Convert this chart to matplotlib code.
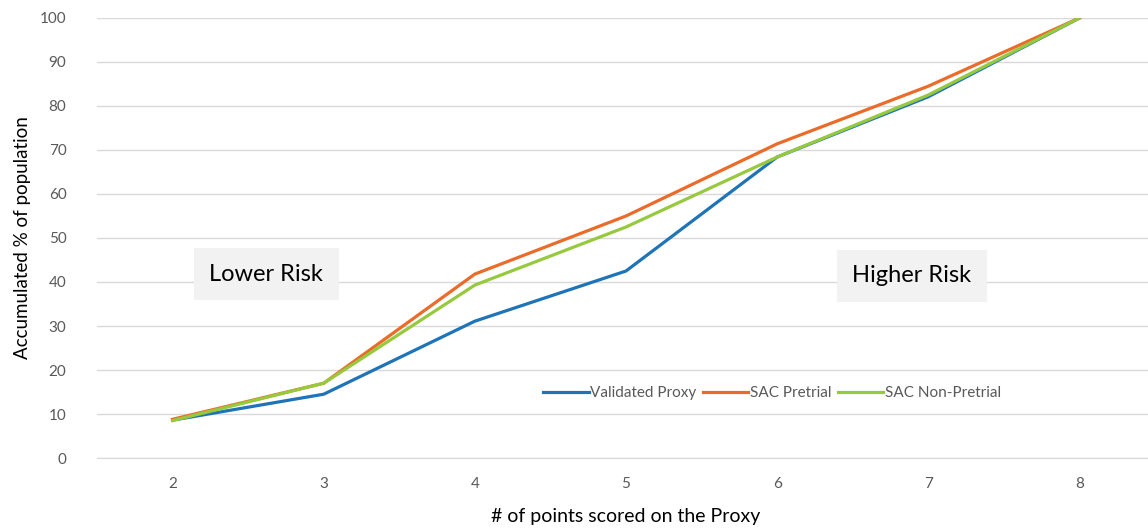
import matplotlib.pyplot as plt

points = [2, 3, 4, 5, 6, 7, 8]
validated_proxy = [8.6, 14.5, 31.1, 42.5, 68.4, 82.1, 100]
sac_pretrial = [8.8, 17.0, 41.8, 55.0, 71.4, 84.5, 100]
sac_non_pretrial = [8.5, 17.0, 39.3, 52.5, 68.4, 82.5, 100]

plt.rcParams['font.family'] = ['Lato', 'DejaVu Sans']

fig = plt.figure(figsize=(11.48, 5.29), dpi=100)
ax = fig.add_axes([0.0845, 0.1342, 0.9216, 0.8318])

ax.plot(points, validated_proxy, color='#1f74b8', lw=2.3, label='Validated Proxy')
ax.plot(points, sac_pretrial, color='#eb6b2a', lw=2.3, label='SAC Pretrial')
ax.plot(points, sac_non_pretrial, color='#96c93d', lw=2.3, label='SAC Non-Pretrial')

ax.set_xlim(1.5, 8.5)
ax.set_ylim(0, 100)
ax.set_yticks(range(0, 101, 10))
ax.set_xticks(points)
ax.grid(axis='y', color='#d9d9d9', lw=1)
ax.set_axisbelow(True)
for s in ['top', 'right', 'left']:
    ax.spines[s].set_visible(False)
ax.spines['bottom'].set_color('#d9d9d9')
ax.tick_params(length=0, colors='#595959', labelsize=11)
ax.tick_params(axis='x', pad=14)
ax.tick_params(axis='y', pad=22)

ax.set_xlabel('# of points scored on the Proxy', fontsize=14, color='#000000', labelpad=12)
ax.set_ylabel('Accumulated % of population', fontsize=13.5, color='#000000', labelpad=6)

box = dict(facecolor='#f2f2f2', edgecolor='none', pad=11)
ax.text(2.62, 41.8, 'Lower Risk', fontsize=17, ha='center', va='center', bbox=box)
ax.text(6.89, 41.4, 'Higher Risk', fontsize=17, ha='center', va='center', bbox=box)

ax.legend(loc='center', bbox_to_anchor=(0.638, 0.148), ncol=3, frameon=False,
          fontsize=11, handlelength=3.0, handletextpad=0.1, columnspacing=0.4,
          labelcolor='#595959')

fig.savefig('out.png', dpi=100)
